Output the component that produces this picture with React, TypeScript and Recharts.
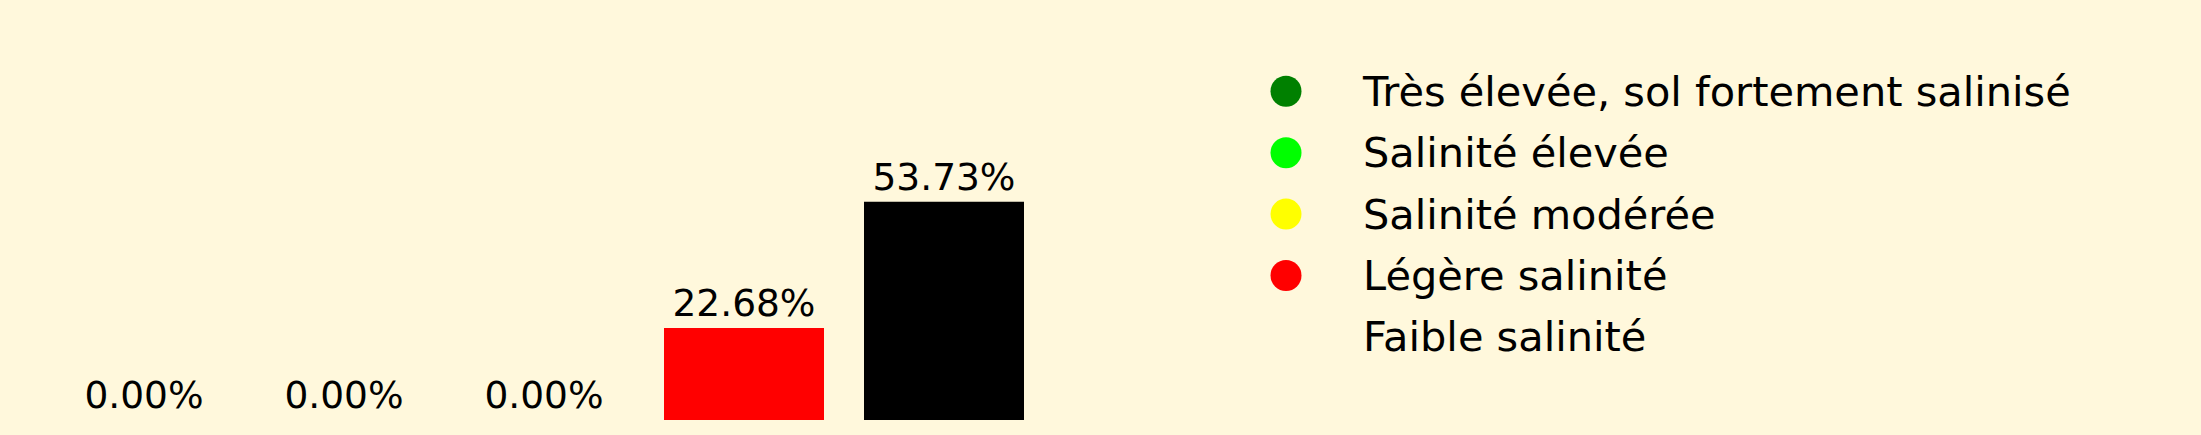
import { Bar, BarChart, Cell, LabelList, Legend, XAxis, YAxis } from "recharts";

const categories = [
  "Très élevée, sol fortement salinisé",
  "Salinité élevée",
  "Salinité modérée",
  "Légère salinité",
  "Faible salinité",
];
const percentages = [0, 0, 0, 22.68, 53.73];
const barColors = ["#008000", "#00ff00", "#ffff00", "#ff0000", "#000000"];
// la dernière pastille de légende n'est pas visible dans l'original
const legendColors = ["#008000", "#00ff00", "#ffff00", "#ff0000", "transparent"];

const data = categories.map((name, i) => ({ name, value: percentages[i] }));

const FONT = "DejaVu Sans, sans-serif";

function SalinityLegend() {
  return (
    <svg width={900} height={340}>
      {categories.map((name, i) => {
        const cy = 51.3 + i * 61.4;
        return (
          <g key={name}>
            <circle cx={56} cy={cy} r={15.5} fill={legendColors[i]} />
            <text x={133} y={cy + 14.5} fontSize={41.5} fontFamily={FONT} fill="#000">
              {name}
            </text>
          </g>
        );
      })}
    </svg>
  );
}

export default function App() {
  return (
    <div
      style={{
        position: "absolute",
        left: 0,
        top: 0,
        width: 2201,
        height: 435,
        background: "#fff8dc",
        fontFamily: FONT,
      }}
    >
      <BarChart
        width={2201}
        height={435}
        data={data}
        margin={{ top: 14, right: 1157, bottom: 15, left: 44 }}
        barCategoryGap={0}
      >
        <XAxis dataKey="name" hide />
        <YAxis domain={[0, 100]} hide />
        <Legend
          layout="vertical"
          align="center"
          verticalAlign="middle"
          wrapperStyle={{ left: 1230, top: 40, width: 900, height: 340 }}
          content={() => <SalinityLegend />}
        />
        {/* minPointSize minuscule : sinon les barres à 0 n'ont pas d'étiquette */}
        <Bar dataKey="value" barSize={160} minPointSize={0.01} isAnimationActive={false}>
          {data.map((d, i) => (
            <Cell key={d.name} fill={barColors[i]} />
          ))}
          <LabelList
            dataKey="value"
            position="top"
            offset={12}
            fontSize={37.5}
            fontFamily={FONT}
            fill="#000"
            formatter={(v: number) => `${v.toFixed(2)}%`}
          />
        </Bar>
      </BarChart>
    </div>
  );
}
